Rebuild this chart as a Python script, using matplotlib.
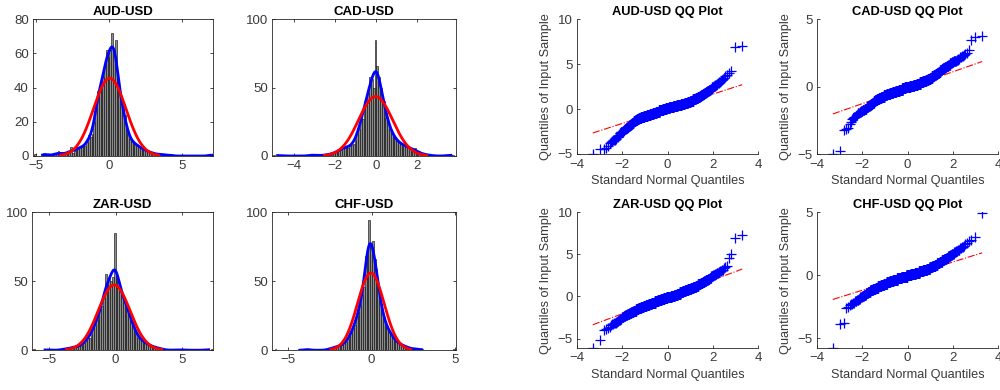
import numpy as np
import matplotlib
matplotlib.use("Agg")
import matplotlib.pyplot as plt
from statistics import NormalDist

plt.rcParams['font.family'] = ['Liberation Sans', 'DejaVu Sans']

pares = ["AUD-USD", "CAD-USD", "ZAR-USD", "CHF-USD"]

# Rendimientos agrupados en 100 bins: extremos del rango y conteo por bin
rango_aud = (-5.1, 7.1)
conteos_aud = [1, 0, 0, 0, 0, 2, 1, 0, 1, 0,
               1, 1, 1, 3, 1, 1, 2, 1, 2, 2,
               5, 2, 3, 4, 5, 5, 5, 6, 6, 8,
               12, 11, 13, 20, 28, 38, 40, 42, 46, 54,
               62, 58, 62, 72, 62, 68, 46, 40, 32, 28,
               24, 17, 13, 10, 9, 8, 7, 6, 6, 5,
               4, 4, 3, 3, 2, 2, 2, 1, 1, 1,
               1, 1, 1, 0, 1, 0, 1, 0, 0, 0,
               0, 0, 0, 0, 0, 0, 0, 0, 0, 0,
               0, 0, 0, 0, 0, 0, 0, 0, 1, 1]

rango_cad = (-5.0, 3.8)
conteos_cad = [1, 0, 1, 0, 0, 0, 0, 0, 0, 0,
               0, 0, 0, 0, 0, 0, 0, 0, 0, 0,
               1, 1, 1, 0, 0, 1, 0, 1, 0, 1,
               1, 2, 1, 2, 3, 3, 4, 5, 7, 6,
               7, 6, 7, 8, 9, 12, 16, 20, 28, 27,
               40, 40, 46, 58, 56, 50, 85, 66, 58, 50,
               41, 40, 28, 25, 20, 17, 15, 13, 11, 10,
               9, 8, 8, 7, 7, 6, 5, 4, 6, 3,
               2, 2, 2, 1, 1, 1, 0, 1, 0, 0,
               0, 0, 0, 0, 0, 0, 1, 0, 1, 1]

rango_zar = (-6.2, 7.3)
conteos_zar = [1, 0, 0, 0, 0, 0, 0, 1, 0, 0,
               0, 0, 0, 0, 0, 0, 1, 1, 1, 1,
               1, 2, 3, 2, 2, 3, 3, 5, 5, 7,
               9, 9, 12, 17, 18, 22, 25, 30, 32, 38,
               55, 49, 52, 50, 53, 85, 56, 50, 44, 40,
               38, 34, 32, 27, 22, 19, 16, 12, 9, 8,
               8, 6, 5, 5, 4, 3, 3, 2, 2, 2,
               1, 1, 1, 0, 0, 0, 0, 0, 0, 1,
               0, 0, 0, 1, 0, 0, 0, 0, 0, 0,
               0, 0, 0, 0, 0, 0, 0, 1, 0, 1]

rango_chf = (-5.8, 5.0)
conteos_chf = [1, 0, 0, 0, 0, 0, 0, 0, 0, 0,
               0, 0, 0, 0, 0, 0, 0, 1, 1, 0,
               0, 0, 0, 0, 0, 0, 0, 0, 0, 1,
               1, 1, 2, 2, 3, 3, 3, 4, 5, 6,
               8, 10, 13, 16, 18, 25, 28, 33, 40, 46,
               68, 70, 94, 76, 79, 66, 59, 46, 36, 30,
               24, 18, 17, 14, 12, 10, 8, 6, 5, 5,
               4, 3, 3, 2, 2, 1, 1, 1, 1, 1,
               0, 1, 0, 0, 0, 0, 0, 0, 0, 0,
               0, 0, 0, 0, 0, 0, 0, 0, 0, 1]

rangos = [rango_aud, rango_cad, rango_zar, rango_chf]
conteos = [conteos_aud, conteos_cad, conteos_zar, conteos_chf]

# Ejes: histogramas a la izquierda, graficos QQ a la derecha
pos_hist = [(0.033, 0.600, 0.180, 0.351), (0.272, 0.600, 0.184, 0.351),
            (0.032, 0.102, 0.181, 0.354), (0.272, 0.102, 0.184, 0.354)]
pos_qq = [(0.577, 0.604, 0.181, 0.347), (0.817, 0.604, 0.181, 0.347),
          (0.577, 0.107, 0.181, 0.349), (0.817, 0.107, 0.181, 0.349)]
xlim_hist = [(-5.2, 7.1), (-5.07, 3.9), (-6.28, 7.33), (-5.96, 5.06)]
ylim_hist = [(0, 80), (0, 100), (0, 100), (0, 100)]
xticks_hist = [[-5, 0, 5], [-4, -2, 0, 2], [-5, 0, 5], [-5, 0, 5]]
yticks_hist = [[0, 20, 40, 60, 80], [0, 50, 100], [0, 50, 100], [0, 50, 100]]
malla_kde = [(-4.55, 7.05), (-4.8, 3.65), (-5.3, 7.0), (-4.3, 3.0)]
ylim_qq = [(-5.05, 10), (-5.0, 5), (-6.15, 10), (-5.8, 5)]
yticks_qq = [[-5, 0, 5, 10], [-5, 0, 5], [-5, 0, 5, 10], [-5, 0, 5]]

gris = '#262626'
gris_txt = '#3a3a3a'


def muestra(rango, conteo):
    conteo = np.array(conteo)
    bordes = np.linspace(rango[0], rango[1], len(conteo) + 1)
    centros = 0.5 * (bordes[:-1] + bordes[1:])
    return np.repeat(centros, conteo), bordes


def densidad_kernel(x, malla):
    # ancho de banda de Silverman con desviacion robusta (como ksdensity)
    n = len(x)
    sig = np.median(np.abs(x - np.median(x))) / 0.6745
    h = sig * (4 / (3 * n)) ** 0.2
    z = (malla[:, None] - x[None, :]) / h
    return np.exp(-0.5 * z ** 2).sum(axis=1) / (n * h * np.sqrt(2 * np.pi))


def estilo(ax, caja):
    for lado, sp in ax.spines.items():
        sp.set_linewidth(0.6)
        sp.set_color(gris)
        if not caja and lado in ('top', 'right'):
            sp.set_visible(False)
    ax.tick_params(direction='in', length=2.5, width=0.6, colors=gris,
                   labelcolor=gris_txt, labelsize=9.5, top=caja, right=caja,
                   pad=3)


def main():
    fig = plt.figure(figsize=(10, 3.9), dpi=100)
    normal = NormalDist()

    for i, par in enumerate(pares):
        x, bordes = muestra(rangos[i], conteos[i])
        n = len(x)
        w = bordes[1] - bordes[0]

        # Histograma con densidad kernel (azul) y ajuste normal (rojo)
        ax = fig.add_axes(pos_hist[i])
        ax.hist(x, bins=bordes, color='0.55', edgecolor='k', linewidth=0.4)
        g = np.linspace(malla_kde[i][0], malla_kde[i][1], 300)
        ax.plot(g, n * w * densidad_kernel(x, g), color='b', linewidth=2)
        mu, sd = x.mean(), x.std(ddof=1)
        gn = np.linspace(mu - 3 * sd, mu + 3 * sd, 200)
        pdf = np.exp(-0.5 * ((gn - mu) / sd) ** 2) / (sd * np.sqrt(2 * np.pi))
        ax.plot(gn, n * w * pdf, color='r', linewidth=2)
        ax.set_xlim(xlim_hist[i])
        ax.set_ylim(ylim_hist[i])
        ax.set_xticks(xticks_hist[i])
        ax.set_yticks(yticks_hist[i])
        ax.set_title(par, fontsize=9.5, fontweight='bold', pad=3)
        estilo(ax, True)

        # Grafico QQ contra cuantiles normales estandar
        ax = fig.add_axes(pos_qq[i])
        p = (np.arange(1, n + 1) - 0.5) / n
        q = np.array([normal.inv_cdf(v) for v in p])
        xs = np.sort(x)
        q1, q3 = np.percentile(x, [25, 75])
        pend = (q3 - q1) / (2 * normal.inv_cdf(0.75))
        lx = np.array([q[0], q[-1]])
        ax.plot(lx, 0.5 * (q1 + q3) + pend * lx, '-.', color='r', linewidth=0.8)
        ax.plot(q, xs, '+', color='b', markersize=7, markeredgewidth=0.9)
        ax.set_xlim(-4, 4)
        ax.set_ylim(ylim_qq[i])
        ax.set_xticks([-4, -2, 0, 2, 4])
        ax.set_yticks(yticks_qq[i])
        ax.set_title(par + " QQ Plot", fontsize=9.3, fontweight='bold', pad=3)
        ax.set_xlabel("Standard Normal Quantiles", fontsize=9.2, color=gris_txt,
                      labelpad=3)
        ax.set_ylabel("Quantiles of Input Sample", fontsize=9.2, color=gris_txt,
                      labelpad=4)
        estilo(ax, False)

    plt.savefig("out.png", dpi=100)


if __name__ == "__main__":
    main()
